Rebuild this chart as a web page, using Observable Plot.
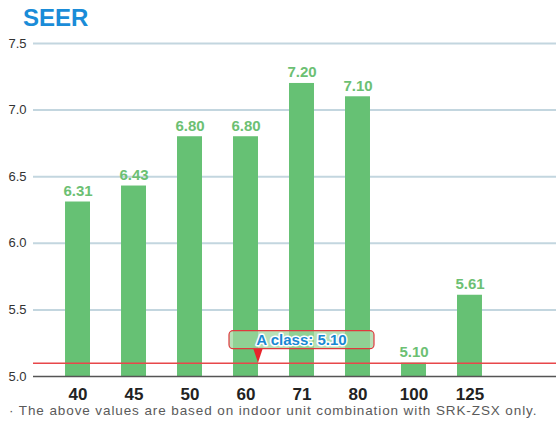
<!DOCTYPE html>
<html>
<head>
<meta charset="utf-8">
<script src="https://cdn.jsdelivr.net/npm/d3@7"></script>
<script src="https://cdn.jsdelivr.net/npm/@observablehq/plot@0.6"></script>
<style>
  html, body { margin: 0; padding: 0; background: #fff; }
  #wrap { position: relative; width: 558px; height: 421px; font-family: "Liberation Sans", Arial, sans-serif; }
  #title { position: absolute; left: 23px; top: 6px; font-size: 24px; line-height: 24px; font-weight: bold; color: #1a8cd8; }
  #note { position: absolute; left: 9px; top: 404px; font-size: 13.5px; line-height: 13px; letter-spacing: 0.9px; color: #5a5a5a; white-space: nowrap; }
  #chart { position: absolute; left: 0; top: 0; }
</style>
</head>
<body>
<div id="wrap">
  <div id="chart"></div>
  <div id="title">SEER</div>
  <div id="note">· The above values are based on indoor unit combination with SRK-ZSX only.</div>
</div>
<script>
// Unit capacities and their SEER ratings
const models = ["40", "45", "50", "60", "71", "80", "100", "125"];
const seer = [6.31, 6.43, 6.80, 6.80, 7.20, 7.10, 5.10, 5.61];
const yTicks = [5.0, 5.5, 6.0, 6.5, 7.0, 7.5];
const classA = 5.10;
const classLabel = "A class: 5.10";

const rows = models.map((m, i) => ({model: m, value: seer[i]}));

// Rounded callout with a pointer down to the A-class threshold line
function classCallout(index, {x, y}) {
  const bw = x.bandwidth ? x.bandwidth() : 0;
  const yLine = y(classA);
  const cx = x("71") + bw / 2;          // callout centred over the 71 column
  const px = x("60") + bw;              // pointer at the right edge of the 60 column
  const w = 145, h = 18;
  const bottom = yLine - 14;
  const g = d3.create("svg:g");
  g.append("path")
    .attr("d", `M${px - 5},${bottom - 1}L${px + 5},${bottom - 1}L${px},${yLine}Z`)
    .attr("fill", "#e8242b");
  g.append("rect")
    .attr("x", cx - w / 2).attr("y", bottom - h)
    .attr("width", w).attr("height", h)
    .attr("rx", 4)
    .attr("fill", "#9fd59f").attr("fill-opacity", 0.75)
    .attr("stroke", "#e0393e").attr("stroke-width", 1.2);
  g.append("text")
    .attr("x", cx).attr("y", bottom - h / 2)
    .attr("dy", "0.36em")
    .attr("text-anchor", "middle")
    .attr("font-family", "Liberation Sans, Arial, sans-serif")
    .attr("font-size", 15).attr("font-weight", "bold")
    .attr("fill", "#1a88d2")
    .attr("stroke", "#fff").attr("stroke-width", 3)
    .attr("paint-order", "stroke")
    .attr("stroke-linejoin", "round")
    .text(classLabel);
  return g.node();
}

const chart = Plot.plot({
  width: 558,
  height: 421,
  marginLeft: 33,
  marginRight: 2,
  marginTop: 43,
  marginBottom: 45,
  style: {fontFamily: "Liberation Sans, Arial, sans-serif", background: "transparent"},
  x: {domain: models, range: [34, 513], padding: 0.554, round: false, label: null},
  y: {domain: [5, 7.5], label: null},
  marks: [
    Plot.ruleY(yTicks.filter(t => t > 5), {stroke: "#c3d6df", strokeWidth: 2}),
    Plot.barY(rows, {x: "model", y1: 5, y2: "value", fill: "#66c174"}),
    Plot.ruleY([classA], {stroke: "#e8474a", strokeWidth: 1.5}),
    Plot.ruleY([5], {stroke: "#555", strokeWidth: 1.5}),
    Plot.text(rows, {
      x: "model", y: "value", text: d => d.value.toFixed(2),
      lineAnchor: "bottom", dy: -6,
      fill: "#6cc073", fontSize: 15, fontWeight: "bold"
    }),
    Plot.axisY({ticks: yTicks, tickFormat: d3.format(".1f"), tickSize: 0, tickPadding: 7, fontSize: 13, fill: "#333", label: null}),
    Plot.axisX({tickSize: 0, tickPadding: 11, fontSize: 17, fontWeight: "bold", fill: "#222", label: null}),
    classCallout
  ]
});

document.getElementById("chart").appendChild(chart);
</script>
</body>
</html>
